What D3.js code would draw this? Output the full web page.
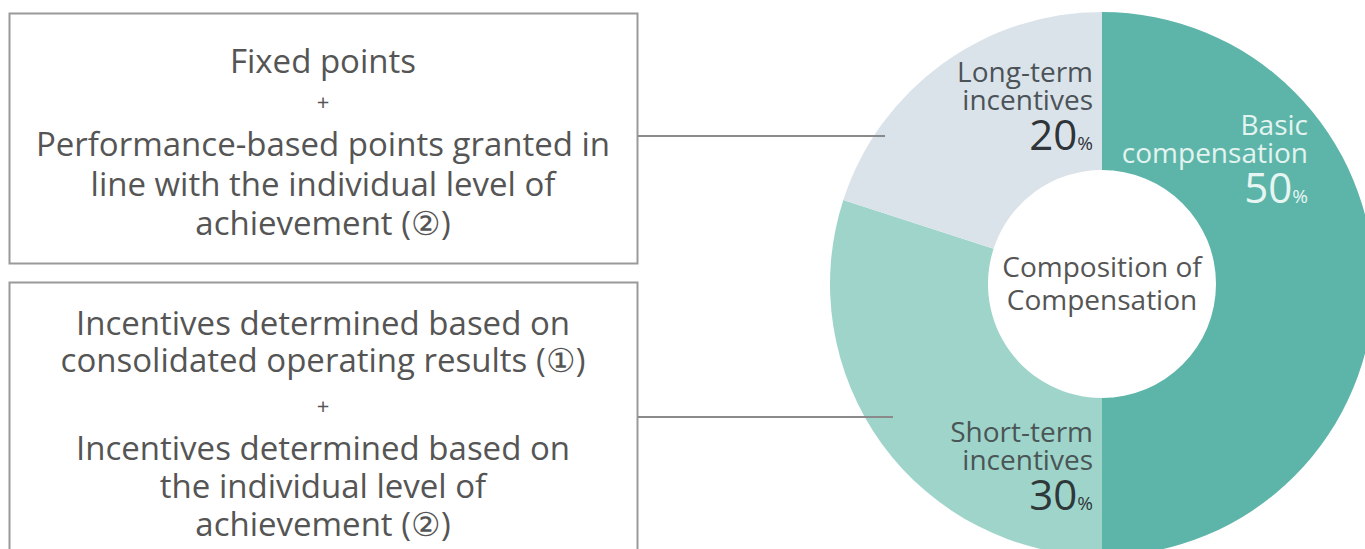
<!DOCTYPE html>
<html>
<head>
<meta charset="utf-8">
<script src="https://cdn.jsdelivr.net/npm/d3@7"></script>
<style>
  body { margin: 0; background: #fff; }
  text { font-family: "Open Sans", sans-serif; }
</style>
</head>
<body>
<script>
const categories = ['Basic compensation', 'Short-term incentives', 'Long-term incentives']
const shares = [50, 30, 20]
const colors = ['#5db5a9', '#9fd4cb', '#dbe3ea']

const box1Lines = ['Fixed points', '+', 'Performance-based points granted in',
  'line with the individual level of', 'achievement (②)']
const box2Lines = ['Incentives determined based on', 'consolidated operating results (①)', '+',
  'Incentives determined based on', 'the individual level of', 'achievement (②)']

const width = 1365
const height = 549

const svg = d3.select('body').append('svg')
  .attr('width', width)
  .attr('height', height)

// donut
const cx = 1102, cy = 284
const outerR = 272, innerR = 114

const pie = d3.pie().sort(null).value(d => d)
const arc = d3.arc().innerRadius(innerR).outerRadius(outerR)

const donut = svg.append('g')
  .attr('transform', `translate(${cx},${cy})`)

donut.selectAll('path')
  .data(pie(shares))
  .join('path')
  .attr('d', arc)
  .attr('fill', (d, i) => colors[i])

// boxes
function drawBox(lines, y0, h, ys, fontSize) {
  svg.append('rect')
    .attr('x', 9.5).attr('y', y0)
    .attr('width', 628).attr('height', h)
    .attr('fill', 'none')
    .attr('stroke', '#9a9a9a')
    .attr('stroke-width', 2)
  svg.append('g').selectAll('text')
    .data(lines)
    .join('text')
    .attr('x', 323)
    .attr('y', (d, i) => ys[i])
    .attr('text-anchor', 'middle')
    .attr('dominant-baseline', 'central')
    .attr('font-size', d => d === '+' ? 22 : fontSize)
    .attr('fill', '#555')
    .text(d => d)
}

drawBox(box1Lines, 13.5, 250, [60, 101, 143, 183, 222], 33)
drawBox(box2Lines, 282.5, 300, [322, 359, 405, 447, 485, 523], 33)

// connectors
svg.append('line').attr('x1', 638).attr('x2', 885).attr('y1', 136).attr('y2', 136)
  .attr('stroke', '#8a8a8a').attr('stroke-width', 2)
svg.append('line').attr('x1', 638).attr('x2', 893).attr('y1', 417).attr('y2', 417)
  .attr('stroke', '#8a8a8a').attr('stroke-width', 2)

// slice labels
const labelSpots = [
  {x: 1308, y: 135, color: '#e3f4f0', pctColor: '#e8f6f3'},
  {x: 1093, y: 442, color: '#4a5656', pctColor: '#2e3838'},
  {x: 1093, y: 82, color: '#4c5358', pctColor: '#2f3438'}
]

categories.forEach((name, i) => {
  const spot = labelSpots[i]
  const words = name.split(' ')
  const g = svg.append('g')
  words.forEach((w, j) => {
    g.append('text')
      .attr('x', spot.x)
      .attr('y', spot.y + j * 28)
      .attr('text-anchor', 'end')
      .attr('font-size', 28)
      .attr('fill', spot.color)
      .text(w)
  })
  const pct = g.append('text')
    .attr('x', spot.x)
    .attr('y', spot.y + 68)
    .attr('text-anchor', 'end')
    .attr('fill', spot.pctColor)
  pct.append('tspan').attr('font-size', 42).text(shares[i])
  pct.append('tspan').attr('font-size', 19).text('%')
})

// centre label
svg.append('text')
  .attr('x', cx).attr('y', 277)
  .attr('text-anchor', 'middle')
  .attr('font-size', 28)
  .attr('fill', '#555')
  .text('Composition of')
svg.append('text')
  .attr('x', cx).attr('y', 310)
  .attr('text-anchor', 'middle')
  .attr('font-size', 28)
  .attr('fill', '#555')
  .text('Compensation')
</script>
</body>
</html>
